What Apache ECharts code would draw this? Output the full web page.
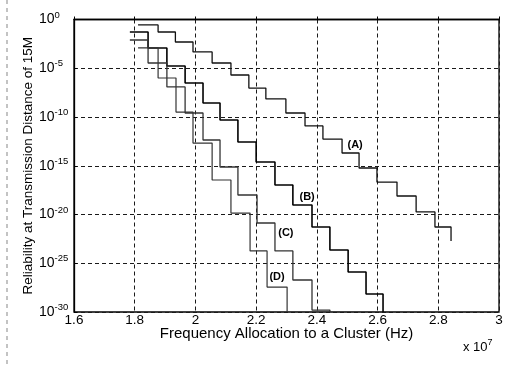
<!DOCTYPE html>
<html>
<head>
<meta charset="utf-8">
<script src="https://cdn.jsdelivr.net/npm/echarts@6/dist/echarts.min.js"></script>
<style>
  html, body { margin: 0; padding: 0; background: #fff; }
  #chart { width: 509px; height: 367px; }
</style>
</head>
<body>
<div id="chart"></div>
<script>
// step positions (x 10^7 Hz) and reliability as log10 exponents
var aFreq = [1.811, 1.877, 1.934, 1.992, 2.055, 2.117, 2.176, 2.232, 2.298, 2.361, 2.420, 2.483, 2.539, 2.598, 2.664, 2.727, 2.789, 2.842];
var aExp  = [-0.56, -1.28, -2.31, -3.33, -4.46, -5.69, -7.03, -8.15, -9.59, -10.92, -12.26, -13.69, -15.23, -16.67, -18.10, -19.74, -21.28, -22.72];

var bFreq = [1.784, 1.844, 1.906, 1.966, 2.025, 2.081, 2.140, 2.200, 2.262, 2.321, 2.384, 2.443, 2.503, 2.562, 2.618];
var bExp  = [-1.28, -2.92, -4.77, -6.51, -8.56, -10.31, -12.56, -14.62, -16.97, -19.03, -21.28, -23.64, -25.90, -28.15, -30];

var cFreq = [1.784, 1.844, 1.906, 1.966, 2.025, 2.081, 2.140, 2.203, 2.262, 2.321, 2.384, 2.443];
var cExp  = [-2.10, -4.46, -6.92, -9.59, -12.36, -15.13, -18.00, -20.87, -23.74, -26.72, -29.80, -30];

var dFreq = [1.811, 1.877, 1.936, 1.992, 2.055, 2.117, 2.180, 2.236, 2.302];
var dExp  = [-2.92, -6.00, -9.49, -12.67, -16.46, -19.85, -23.74, -27.44, -30];

var xTicks = [1.6, 1.8, 2, 2.2, 2.4, 2.6, 2.8, 3];
var yTickExp = [0, -5, -10, -15, -20, -25, -30];

var font = "'Liberation Sans', Arial, sans-serif";

function pts(freq, exp) {
  return freq.map(function (f, i) { return [f, exp[i]]; });
}

function curve(name, freq, exp, width, color, tag, at) {
  return {
    name: name,
    type: 'line',
    step: 'end',
    symbol: 'none',
    data: pts(freq, exp),
    lineStyle: { color: color, width: width },
    markPoint: {
      symbol: 'circle',
      symbolSize: 1,
      itemStyle: { color: 'rgba(0,0,0,0)' },
      label: {
        show: true, position: 'inside', formatter: tag,
        color: '#000', fontSize: 11, fontWeight: 'bold', fontFamily: font
      },
      data: [{ coord: at }]
    }
  };
}

var dashed = { show: true, lineStyle: { color: '#1a1a1a', width: 1, type: [4, 3] } };

var option = {
  animation: false,
  backgroundColor: '#fff',
  grid: {
    left: 74, right: 10, top: 19.5, bottom: 55,
    show: true, borderColor: '#000', borderWidth: 1.3
  },
  xAxis: {
    type: 'value',
    min: 1.6, max: 3, interval: 0.2,
    name: 'Frequency Allocation to a Cluster (Hz)',
    nameLocation: 'middle', nameGap: 14, nameMoveOverlap: false,
    nameTextStyle: { fontSize: 15, color: '#000', fontFamily: font, verticalAlign: 'top' },
    axisLine: { show: true, lineStyle: { color: '#000', width: 1.3 } },
    axisTick: { show: true, inside: true, length: 3, lineStyle: { color: '#000' } },
    axisLabel: {
      margin: 1, fontSize: 13.5, color: '#000', fontFamily: font,
      formatter: function (v) {
        var t = xTicks.filter(function (k) { return Math.abs(k - v) < 1e-6; });
        return t.length ? String(t[0]) : '';
      }
    },
    splitLine: dashed
  },
  yAxis: {
    type: 'value',
    min: -30, max: 0, interval: 5,
    name: 'Reliability at Transmission Distance of 15M',
    nameLocation: 'middle', nameGap: 39, nameRotate: 90, nameMoveOverlap: false,
    nameTextStyle: { fontSize: 13.5, color: '#000', fontFamily: font },
    axisLine: { show: true, lineStyle: { color: '#000', width: 1.3 } },
    axisTick: { show: true, inside: true, length: 3, lineStyle: { color: '#000' } },
    axisLabel: {
      margin: 35, align: 'left', color: '#000', fontFamily: font,
      formatter: function (v) {
        var e = Math.round(v);
        if (yTickExp.indexOf(e) < 0) return '';
        return '{b|10}{s|' + e + '}';
      },
      rich: {
        b: { fontSize: 14, color: '#000', fontFamily: font },
        s: { fontSize: 9.5, color: '#000', fontFamily: font, padding: [0, 0, 9, 0] }
      }
    },
    splitLine: dashed
  },
  graphic: [
    {
      type: 'text', left: 463, top: 338,
      style: {
        text: '{b|x 10}{s|7}', fill: '#000',
        rich: {
          b: { fontSize: 13, fontFamily: font, fill: '#000' },
          s: { fontSize: 9, fontFamily: font, fill: '#000', padding: [0, 0, 9, 0] }
        }
      }
    },
    {
      type: 'line', shape: { x1: 7, y1: 0, x2: 7, y2: 367 },
      style: { stroke: '#888', lineWidth: 1, lineDash: [4, 4] }
    }
  ],
  series: [
    curve('A', aFreq, aExp, 1.3, '#111', '(A)', [2.526, -12.87]),
    curve('B', bFreq, bExp, 1.6, '#000', '(B)', [2.368, -18.2]),
    curve('C', cFreq, cExp, 1.3, '#333', '(C)', [2.298, -21.9]),
    curve('D', dFreq, dExp, 1.2, '#333', '(D)', [2.269, -26.4])
  ]
};

var myChart = echarts.init(document.getElementById('chart'));
myChart.setOption(option);
</script>
</body>
</html>
